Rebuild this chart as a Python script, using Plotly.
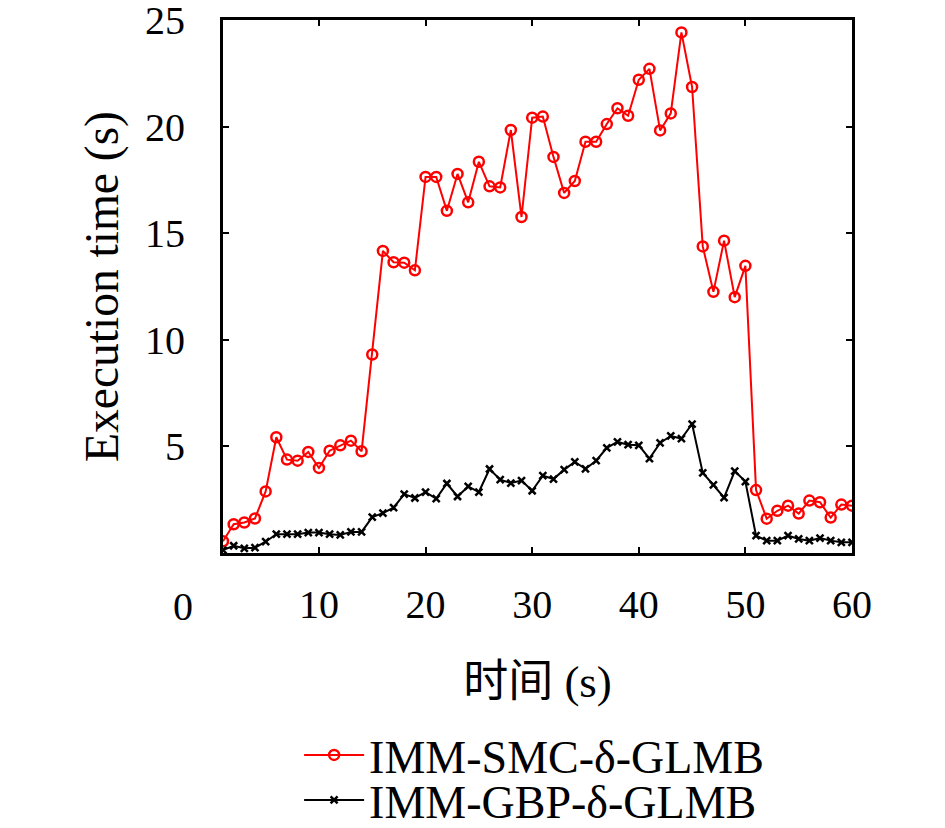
import plotly.graph_objects as go

# time steps 1..60
time_steps = list(range(1, 61))

smc_times = [
    0.55, 1.35, 1.43, 1.62, 2.89, 5.43, 4.38, 4.33, 4.74, 3.99,
    4.80, 5.05, 5.27, 4.77, 9.31, 14.17, 13.64, 13.62, 13.26, 17.64,
    17.64, 16.05, 17.78, 16.45, 18.35, 17.20, 17.15, 19.84, 15.76, 20.42,
    20.47, 18.58, 16.89, 17.45, 19.29, 19.29, 20.12, 20.86, 20.51, 22.20,
    22.71, 19.82, 20.62, 24.42, 21.86, 14.38, 12.25, 14.65, 12.00, 13.47,
    2.95, 1.61, 1.98, 2.22, 1.85, 2.46, 2.38, 1.66, 2.27, 2.22,
]

gbp_times = [
    0.14, 0.34, 0.22, 0.25, 0.53, 0.88, 0.88, 0.88, 0.96, 0.96,
    0.88, 0.85, 0.99, 0.99, 1.68, 1.87, 2.13, 2.76, 2.58, 2.85,
    2.55, 3.26, 2.65, 3.12, 2.86, 3.94, 3.44, 3.28, 3.40, 2.92,
    3.63, 3.47, 3.91, 4.27, 3.95, 4.33, 4.93, 5.21, 5.08, 5.05,
    4.43, 5.16, 5.49, 5.37, 6.05, 3.76, 3.19, 2.60, 3.84, 3.35,
    0.81, 0.58, 0.58, 0.82, 0.66, 0.58, 0.70, 0.58, 0.50, 0.50,
]

x_ticks = [10, 20, 30, 40, 50, 60]
y_ticks = [5, 10, 15, 20, 25]

FONT = "Liberation Serif, Noto Sans CJK SC, serif"

fig = go.Figure()
fig.add_trace(go.Scatter(
    x=time_steps, y=smc_times, name="IMM-SMC-δ-GLMB", mode="lines+markers",
    line=dict(color="#ff0000", width=2),
    marker=dict(symbol="circle-open", size=10, color="#ff0000", line=dict(width=2.5)),
    legend="legend",
))
fig.add_trace(go.Scatter(
    x=time_steps, y=gbp_times, name="IMM-GBP-δ-GLMB", mode="lines+markers",
    line=dict(color="black", width=2),
    marker=dict(symbol="x-thin", size=7, color="black", line=dict(width=2.5, color="black")),
    legend="legend2",
))

axis_style = dict(
    showline=True, linecolor="black", linewidth=3, mirror="allticks",
    ticks="inside", ticklen=6, tickwidth=2, tickcolor="black",
    showgrid=False, zeroline=False, automargin=False, ticklabeloverflow="allow",
    tickfont=dict(family=FONT, size=40, color="black"),
)

fig.update_xaxes(
    range=[1, 60], tickvals=x_ticks, ticklabelstandoff=14,
    title=dict(text="时间 (s)", font=dict(family=FONT, size=45, color="black"), standoff=40),
    **axis_style,
)
fig.update_yaxes(
    range=[0, 25.001], tickvals=y_ticks, ticklabelstandoff=27,
    title=dict(text="Execution time (s)", font=dict(family=FONT, size=47.5, color="black"), standoff=12),
    **axis_style,
)

# stray "0" label left of the x axis, as in the original
fig.add_annotation(
    text="0", xref="paper", yref="paper", x=-0.063, y=-0.101,
    xanchor="center", yanchor="middle",
    showarrow=False, font=dict(family=FONT, size=40, color="black"),
)

legend_style = dict(
    xanchor="left", yanchor="middle",
    font=dict(family=FONT, size=46, color="black"),
    bgcolor="rgba(0,0,0,0)", itemwidth=60,
)

# the page body adds an 8px offset, so the left/top margins are trimmed by 8
fig.update_layout(
    width=945, height=828,
    margin=dict(l=215, r=101, t=12, b=283, autoexpand=False),
    paper_bgcolor="white", plot_bgcolor="white",
    font=dict(family=FONT, color="black"),
    showlegend=True,
    legend=dict(x=0.121, y=(553 - 755) / 533, **legend_style),
    legend2=dict(x=0.121, y=(553 - 800) / 533, **legend_style),
)

fig.write_html("out.html")
